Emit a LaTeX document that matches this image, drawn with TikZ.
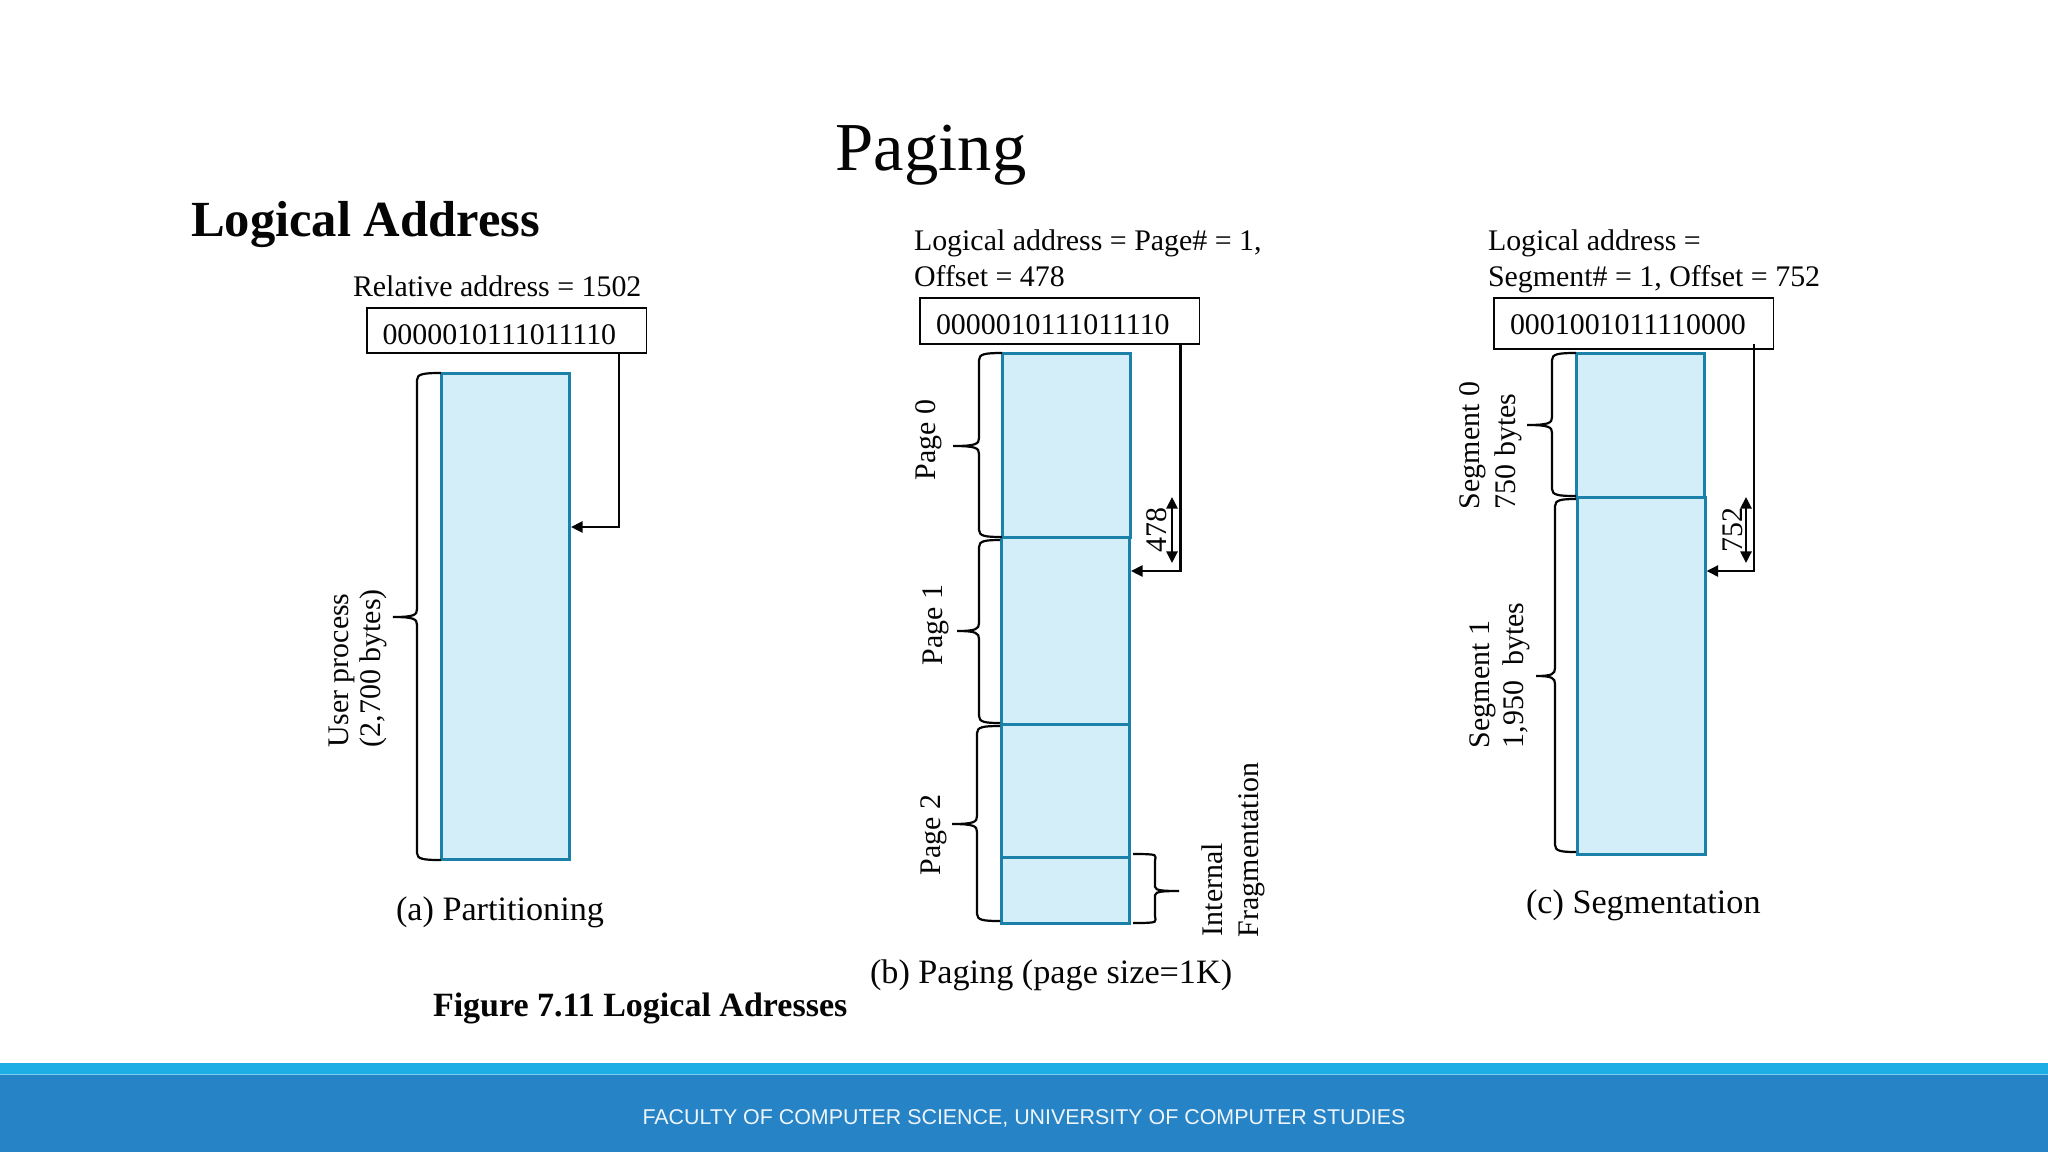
\documentclass[tikz,border=0pt]{standalone}
\usepackage{fontspec}
\setmainfont{Liberation Serif}
\newfontfamily\footfont{Liberation Sans}
\usetikzlibrary{arrows.meta}
\definecolor{blockfill}{HTML}{D3EDF9}
\definecolor{blockline}{HTML}{1C81A8}
\definecolor{bandlight}{HTML}{1CAEE4}
\definecolor{bandmain}{HTML}{2683C6}
\definecolor{inkdark}{HTML}{050505}
\tikzset{
  txt/.style={inner sep=0pt,outer sep=0pt,anchor=base west,text=inkdark,font=\fontsize{14.95pt}{17pt}\selectfont},
  vtxt/.style={txt,rotate=90},
  caption/.style={txt,font=\fontsize{17.1pt}{20pt}\selectfont},
  block/.style={draw=blockline,fill=blockfill,line width=1.5pt,inner sep=0pt,outer sep=0pt,anchor=north west,minimum width=64.4pt},
  addrbox/.style={draw=inkdark,line width=0.9pt,fill=white,inner sep=0pt,outer sep=0pt,anchor=north west,minimum width=139.7pt},
  conn/.style={draw=inkdark,line width=1.1pt},
  arrowtip/.style={-{Triangle[length=5.8pt,width=5.6pt]}},
  dimarrow/.style={{Triangle[length=5.8pt,width=5.6pt]}-{Triangle[length=5.8pt,width=5.6pt]}},
  bracepath/.style={draw=inkdark,line width=1.1pt},
}
% #1 end x, #2 spine x, #3 tip x, #4 top y, #5 mid y, #6 bottom y
\newcommand{\bracev}[6]{%
  \draw[bracepath] (#1,#4) .. controls (#2+6,#4) and (#2,#4+1) .. (#2,#4+7)
    -- (#2,#5-8) .. controls (#2,#5-2) and (#2-3,#5) .. (#3,#5)
    .. controls (#2-3,#5) and (#2,#5+2) .. (#2,#5+8)
    -- (#2,#6-7) .. controls (#2,#6-1) and (#2+6,#6) .. (#1,#6);}
\begin{document}
\begin{tikzpicture}[x=0.5pt,y=-0.5pt]
\useasboundingbox (0,0) rectangle (2048,1152);
\fill[white] (0,0) rectangle (2048,1152);
% footer
\fill[bandlight] (0,1063) rectangle (2048,1075);
\fill[bandmain] (0,1075) rectangle (2048,1152);
\draw[color=bandlight!60!white,line width=0.5pt] (0,1074.5) -- (2048,1074.5);
\node[anchor=base,inner sep=0pt,text=white!92!bandmain,font=\footfont\fontsize{10.7pt}{13pt}\selectfont] (footer) at (1024,1124) {FACULTY OF COMPUTER SCIENCE, UNIVERSITY OF COMPUTER STUDIES};
% headings
\node[anchor=base,inner sep=0pt,text=inkdark,font=\fontsize{34.3pt}{40pt}\selectfont] (title) at (931,170) {Paging};
\node[txt,font=\bfseries\fontsize{25.3pt}{30pt}\selectfont] (heading) at (191,236) {Logical Address};
\node[txt,font=\bfseries\fontsize{17pt}{20pt}\selectfont] (figcap) at (433,1016) {Figure 7.11 Logical Adresses};

% ---- panel a
\node[txt] (aRel) at (353,296) {Relative address = 1502};
\node[addrbox,minimum height=22.5pt] (aBox) at (367,308) {};
\node[txt] (aBin) at (382.5,344) {0000010111011110};
\node[block,minimum height=243pt] (aBlock) at (441,373) {};
\coordinate (aBend) at (619,527);
\draw[conn,arrowtip] (aBend |- aBox.south) -- (aBend) -- ([xshift=0.6pt]aBend -| aBlock.east);
\bracev{441}{417}{393}{373}{617}{860}
\node[vtxt] (aUser) at (348,747) {User process};
\node[vtxt] (aSize) at (380,747) {(2,700 bytes)};
\node[caption] (aCap) at (396,920) {(a) Partitioning};

% ---- panel b
\node[txt] (bL1) at (914,250) {Logical address = Page\# = 1,};
\node[txt] (bL2) at (914,286) {Offset = 478};
\node[addrbox,minimum height=23pt] (bBox) at (920,298) {};
\node[txt] (bBin) at (936,334) {0000010111011110};
\node[block,minimum height=92pt] (bP0) at (1002,353) {};
\node[block,minimum height=93.5pt] (bP1) at (1001,537) {};
\node[block,minimum height=66.5pt] (bP2) at (1001,724) {};
\node[block,minimum height=33.2pt] (bFrag) at (1001,857) {};
\coordinate (bBend) at (1180.5,571);
\draw[conn,arrowtip] (bBend |- bBox.south) -- (bBend) -- ([xshift=0.6pt]bBend -| bP1.east);
\coordinate (bDimTop) at (1172,497);
\coordinate (bDimBot) at (1172,563);
\draw[conn,dimarrow] (bDimTop) -- (bDimBot);
\node[vtxt,anchor=center] (bOff) at (1157,530) {478};
\bracev{1002}{979}{953}{353}{446}{537}
\bracev{1000}{979}{957}{540}{631}{723}
\bracev{1000}{977}{952}{726}{824}{921}
\bracev{1133}{1155}{1179}{854}{891}{923}
\node[vtxt] (bPg0) at (935,480) {Page 0};
\node[vtxt] (bPg1) at (942,665) {Page 1};
\node[vtxt] (bPg2) at (940,875) {Page 2};
\node[vtxt] (bInt) at (1222,936) {Internal};
\node[vtxt] (bFr) at (1258,937) {Fragmentation};
\node[caption] (bCap) at (870,983) {(b) Paging (page size=1K)};

% ---- panel c
\node[txt] (cL1) at (1488,250) {Logical address =};
\node[txt] (cL2) at (1488,286) {Segment\# = 1, Offset = 752};
\node[addrbox,minimum height=25.5pt] (cBox) at (1494,298) {};
\node[txt] (cBin) at (1510,334) {0001001011110000};
\node[block,minimum height=72pt] (cS0) at (1576,353) {};
\node[block,minimum height=178.5pt] (cS1) at (1577,497) {};
\coordinate (cBend) at (1754,571);
\draw[conn,arrowtip] (1754,344) -- (cBend) -- ([xshift=0.4pt]cBend -| cS1.east);
\coordinate (cDimTop) at (1746,497);
\coordinate (cDimBot) at (1746,563);
\draw[conn,dimarrow] (cDimTop) -- (cDimBot);
\node[vtxt,anchor=center] (cOff) at (1733,530) {752};
\bracev{1576}{1552}{1527}{353}{425}{496}
\bracev{1576}{1555}{1536}{499}{676}{852}
\node[vtxt] (cSeg0) at (1479,509) {Segment 0};
\node[vtxt] (cSize0) at (1515,509) {750 bytes};
\node[vtxt] (cSeg1) at (1489,748) {Segment 1};
\node[vtxt] (cSize1) at (1523,748) {1,950\hspace{0.5em}bytes};
\node[caption] (cCap) at (1526,913) {(c) Segmentation};
\end{tikzpicture}
\end{document}
